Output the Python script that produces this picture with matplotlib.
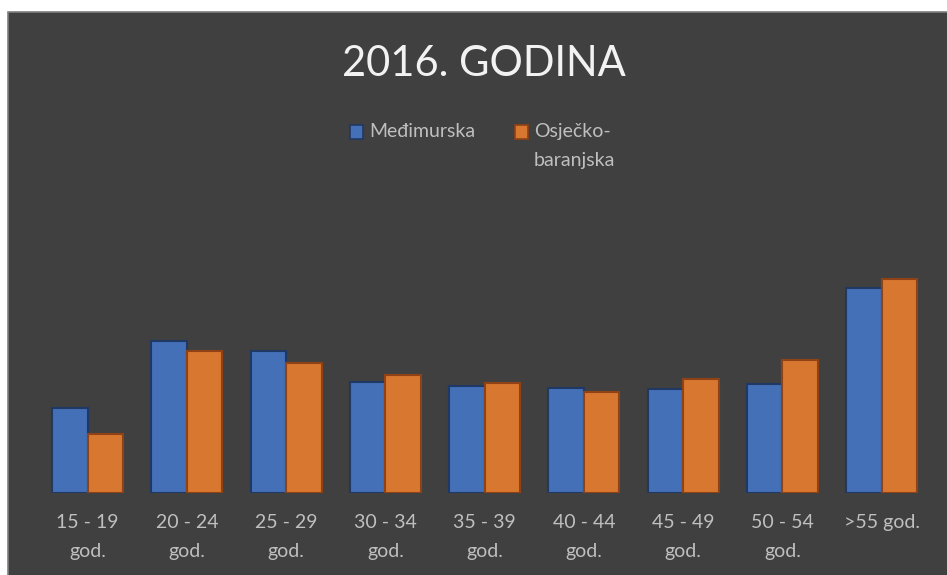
import matplotlib
matplotlib.use("Agg")
import matplotlib.pyplot as plt
from matplotlib.patches import Rectangle
import numpy as np

plt.rcParams['font.family'] = ['Lato', 'DejaVu Sans']

title = "2016. GODINA"
categories = ["15 - 19\ngod.", "20 - 24\ngod.", "25 - 29\ngod.", "30 - 34\ngod.",
              "35 - 39\ngod.", "40 - 44\ngod.", "45 - 49\ngod.", "50 - 54\ngod.", ">55 god."]
series_names = ["Međimurska", "Osječko-\nbaranjska"]
medimurska = [7.6, 13.6, 12.7, 9.9, 9.6, 9.35, 9.3, 9.75, 18.3]
osjecko = [5.3, 12.7, 11.6, 10.5, 9.8, 9.0, 10.15, 11.85, 19.1]

fill_colors = ["#4470B8", "#D8772F"]
edge_colors = ["#203864", "#8E4215"]
bg = "#404040"
text_col = "#BFBFBF"

W, H = 947, 575
fig = plt.figure(figsize=(W / 100, H / 100), dpi=100, facecolor="white")

# chart area background with thin grey border
fig.patches.append(Rectangle((8 / W, -0.01), 1 - 8 / W + 0.01, (H - 12) / H + 0.01, transform=fig.transFigure,
                             facecolor=bg, edgecolor="#7F7F7F", linewidth=1.2, zorder=-10))

ax = fig.add_axes([38 / W, 81.7 / H, (931.3 - 38) / W, (493.3 - 212.7) / H])
ax.set_facecolor("none")
x = np.arange(len(categories))
bw = 0.358
ax.bar(x - bw / 2, medimurska, width=bw, color=fill_colors[0], edgecolor=edge_colors[0], linewidth=1.5)
ax.bar(x + bw / 2, osjecko, width=bw, color=fill_colors[1], edgecolor=edge_colors[1], linewidth=1.5)
ax.set_xlim(-0.5, len(categories) - 0.5)
ax.set_ylim(0, 25)
ax.set_yticks([])
ax.set_xticks(x)
ax.set_xticklabels(categories, color=text_col, fontsize=14, linespacing=1.85, va="top")
ax.tick_params(axis="x", length=0, pad=15)
for s in ax.spines.values():
    s.set_visible(False)

fig.text(484 / W, 1 - 64 / H, title, color="#F2F2F2", fontsize=30, ha="center", va="center")

# legend
sq = 13
items = [(350, series_names[0]), (515, series_names[1])]
for i, (lx, name) in enumerate(items):
    fig.patches.append(Rectangle((lx / W, 1 - (132 + sq / 2) / H), sq / W, sq / H,
                                 transform=fig.transFigure, facecolor=fill_colors[i],
                                 edgecolor=edge_colors[i], linewidth=1.2))
    fig.text((lx + sq + 6) / W, 1 - 123 / H, name, color=text_col, fontsize=14,
             ha="left", va="top", linespacing=1.85)

fig.savefig("out.png", dpi=100, facecolor=fig.get_facecolor())
